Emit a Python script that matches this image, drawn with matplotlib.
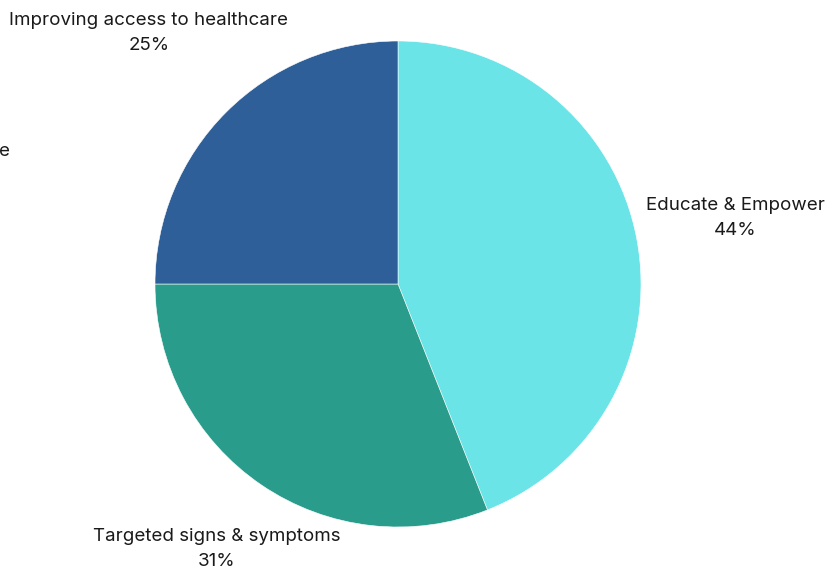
import numpy as np
import matplotlib
matplotlib.use('Agg')
import matplotlib.pyplot as plt

# data
labels = ['Educate & Empower', 'Targeted signs & symptoms', 'Improving access to healthcare']
shares = [44, 31, 25]
colors = ['#6BE4E8', '#299C8C', '#2E5F98']

# where each label sits (pixels from top-left of the picture)
label_px = [(735, 218), (217, 549), (149, 33)]

plt.rcParams['font.family'] = ['Inter', 'DejaVu Sans']

W, H = 830, 572
fig = plt.figure(figsize=(W/100, H/100), dpi=100)

# square axes holding the pie, centre (398,284) radius 243 px
cx, cy, r = 398, 284, 243
ax = fig.add_axes([(cx-r)/W, (H-cy-r)/H, 2*r/W, 2*r/H])
wedges, texts = ax.pie(shares, colors=colors, startangle=90, counterclock=False,
                       labels=[l + '\n' + str(v) + '%' for l, v in zip(labels, shares)],
                       wedgeprops=dict(edgecolor='white', linewidth=0.4),
                       textprops=dict(fontsize=13.5, color='#1a1a1a', linespacing=1.55))
for t, (px, py) in zip(texts, label_px):
    t.set_ha('center')
    t.set_va('center')
    t.set_position(((px - cx) / r, (cy - py) / r))
    t.set_clip_on(False)
ax.set_xlim(-1, 1)
ax.set_ylim(-1, 1)
ax.set_aspect('equal')

# cut-off label at left edge
fig.text(10/W, 1 - 151/H, 'e', ha='right', va='center', fontsize=13.5, color='#1a1a1a')

fig.savefig('out.png', dpi=100)
